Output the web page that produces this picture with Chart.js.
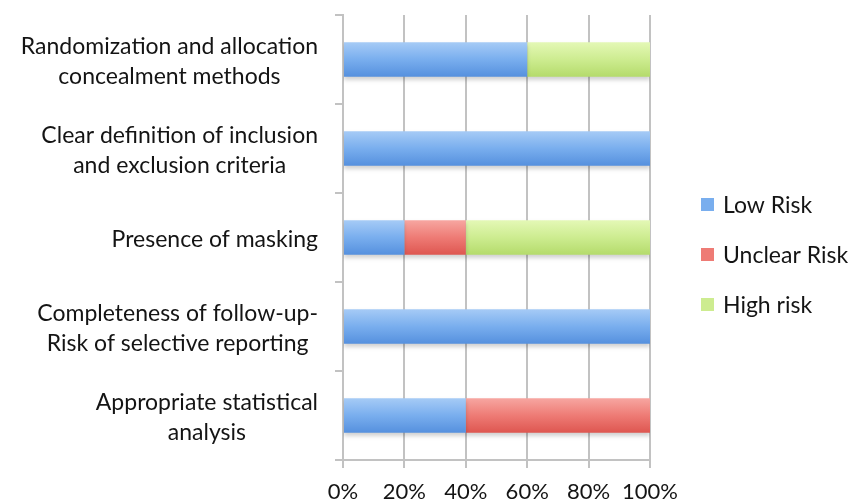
<!DOCTYPE html>
<html>
<head>
<meta charset="utf-8">
<script src="https://cdn.jsdelivr.net/npm/chart.js@4/dist/chart.umd.min.js"></script>
<style>
  html, body { margin: 0; padding: 0; background: #ffffff; }
  #wrap { width: 860px; height: 504px; }
</style>
</head>
<body>
<div id="wrap"><canvas id="c" width="860" height="504"></canvas></div>
<script>
// Risk-of-bias assessment, share of studies per domain (percent)
const categories = [
  ["Randomization and allocation", "concealment methods"],
  ["Clear definition of inclusion", "and exclusion criteria"],
  ["Presence of masking"],
  ["Completeness of follow-up-", "Risk of selective reporting"],
  ["Appropriate statistical", "analysis"]
];
const seriesNames = ["Low Risk", "Unclear Risk", "High risk"];
const lowRisk     = [60, 100, 20, 100, 40];
const unclearRisk = [0, 0, 20, 0, 60];
const highRisk    = [40, 0, 60, 0, 0];
const xTickValues = [0, 20, 40, 60, 80, 100];

const FONT = "Lato, 'Open Sans', sans-serif";
const TEXT = "#141414";
const GRID = "#c2c2c2";

// top / middle / bottom stops of each series' bar shading
const palette = [
  { top: "#a6cbf6", flat: "#79aeee", bottom: "#5590de" },
  { top: "#f7a6a1", flat: "#ee7b75", bottom: "#de5650" },
  { top: "#e4f8b6", flat: "#cdec90", bottom: "#b4db6b" }
];

function shadedFill(p) {
  return (ctx) => {
    const chart = ctx.chart;
    const y = chart.scales && chart.scales.y;
    if (ctx.type !== "data" || !y || !chart.chartArea) return p.flat;
    const c = y.getPixelForValue(ctx.dataIndex);
    const half = y.height / categories.length * 0.39 / 2;
    const g = chart.ctx.createLinearGradient(0, c - half, 0, c + half);
    g.addColorStop(0, p.top);
    g.addColorStop(0.5, p.flat);
    g.addColorStop(1, p.bottom);
    return g;
  };
}

// soft drop shadow under the bars
const barShadow = {
  id: "barShadow",
  beforeDatasetsDraw(chart) {
    const ctx = chart.ctx;
    ctx.save();
    ctx.shadowColor = "rgba(0,0,0,0.18)";
    ctx.shadowBlur = 4;
    ctx.shadowOffsetY = 3;
  },
  afterDatasetsDraw(chart) {
    chart.ctx.restore();
  }
};

// category labels: block right-aligned against the axis, lines centred within the block
const categoryLabels = {
  id: "categoryLabels",
  afterDraw(chart) {
    const y = chart.scales.y;
    const ctx = chart.ctx;
    const lineH = 30;
    const rightEdge = y.right - 8 - 17;
    ctx.save();
    ctx.font = "23px " + FONT;
    ctx.fillStyle = TEXT;
    ctx.textAlign = "center";
    ctx.textBaseline = "middle";
    categories.forEach((lines, i) => {
      const cy = y.getPixelForValue(i);
      const w = Math.max(...lines.map(l => ctx.measureText(l).width));
      const cx = rightEdge - w / 2;
      lines.forEach((l, j) => {
        ctx.fillText(l, cx, cy + (j - (lines.length - 1) / 2) * lineH + 2);
      });
    });
    ctx.restore();
  }
};

// legend column to the right of the plot
const sideLegend = {
  id: "sideLegend",
  afterDraw(chart) {
    const ctx = chart.ctx;
    const area = chart.chartArea;
    const x0 = area.right + 51;
    const step = 50;
    const n = chart.data.datasets.length;
    const cy0 = chart.height / 2 + 3 - (n - 1) / 2 * step;
    ctx.save();
    ctx.font = "23px " + FONT;
    ctx.textBaseline = "middle";
    ctx.textAlign = "left";
    chart.data.datasets.forEach((ds, i) => {
      const cy = cy0 + i * step;
      ctx.fillStyle = palette[i].flat;
      ctx.fillRect(x0, cy - 7, 13, 13);
      ctx.fillStyle = TEXT;
      ctx.fillText(ds.label, x0 + 22, cy + 1);
    });
    ctx.restore();
  }
};

const seriesValues = [lowRisk, unclearRisk, highRisk];

new Chart(document.getElementById("c"), {
  type: "bar",
  data: {
    labels: categories.map(l => l.join(" ")),
    datasets: seriesValues.map((vals, i) => ({
      label: seriesNames[i],
      data: vals,
      backgroundColor: shadedFill(palette[i]),
      borderWidth: 0,
      barPercentage: 0.39,
      categoryPercentage: 1
    }))
  },
  options: {
    indexAxis: "y",
    responsive: false,
    animation: false,
    devicePixelRatio: 1,
    layout: { padding: { left: 0, top: 15, right: 210, bottom: 0 } },
    plugins: {
      legend: { display: false },
      tooltip: { enabled: false }
    },
    scales: {
      x: {
        stacked: true,
        min: 0,
        max: 100,
        afterBuildTicks(scale) {
          scale.ticks = xTickValues.map(v => ({ value: v }));
        },
        afterFit(scale) { scale.height = 44; },
        grid: {
          color: GRID,
          lineWidth: 2,
          drawTicks: true,
          tickLength: 8,
          tickColor: GRID
        },
        border: { color: GRID, width: 2 },
        ticks: {
          padding: 11,
          color: TEXT,
          font: { family: FONT, size: 22 },
          maxRotation: 0,
          callback: v => v + "%"
        }
      },
      y: {
        stacked: true,
        offset: true,
        afterFit(scale) { scale.width = 343; },
        grid: {
          offset: true,
          drawOnChartArea: false,
          drawTicks: true,
          tickLength: 8,
          tickColor: GRID,
          lineWidth: 2
        },
        border: { color: GRID, width: 2 },
        ticks: { display: false }
      }
    }
  },
  plugins: [barShadow, categoryLabels, sideLegend]
});
</script>
</body>
</html>
